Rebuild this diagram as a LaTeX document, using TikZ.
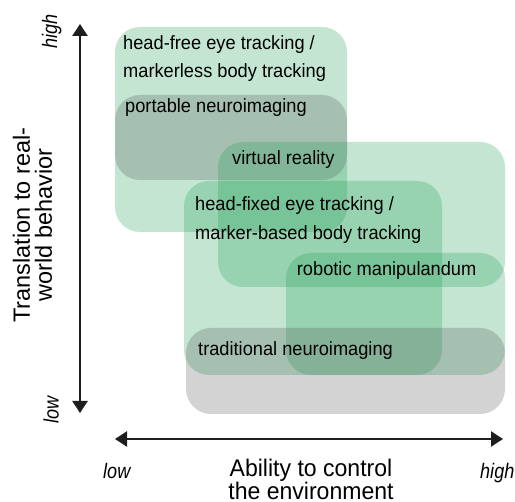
\documentclass[tikz,border=0pt]{standalone}
\usepackage{fontspec}
\setmainfont{Liberation Sans}
\newfontfamily\boxfont[FakeStretch=0.95]{Liberation Sans}
\usetikzlibrary{arrows.meta}
\definecolor{boxgreen}{RGB}{33,159,88}
\definecolor{boxgray}{RGB}{80,80,80}
\definecolor{axisink}{RGB}{30,30,30}
\begin{document}
\begin{tikzpicture}[x=1pt,y=-1pt,
  region/.style={rounded corners=25pt,inner sep=0pt,outer sep=0pt,anchor=north west,draw=none},
  greenbox/.style={region,fill=boxgreen,fill opacity=0.27},
  graybox/.style={region,fill=boxgray,fill opacity=0.25},
  lbl/.style={font=\boxfont\fontsize{19.2}{28.5}\selectfont,anchor=north west,inner sep=0pt,align=left,text=black},
  endlbl/.style={font=\fontsize{21}{21}\selectfont\itshape,inner sep=0pt,text=black},
  ttl/.style={inner sep=0pt,align=center,text=black},
  axisline/.style={draw=axisink,line width=2.4pt,
    {Triangle[width=15pt,length=12pt]}-{Triangle[width=15pt,length=12pt]}}
]
\useasboundingbox (0,0) rectangle (515,502);

% regions
\node[greenbox,minimum width=232pt,minimum height=205pt] (hf) at (115,27) {};
\node[graybox,minimum width=232pt,minimum height=85pt] (pn) at (115,95) {};
\node[greenbox,minimum width=287pt,minimum height=145pt] (vr) at (218,142) {};
\node[greenbox,minimum width=258pt,minimum height=194pt] (hx) at (184,181) {};
\node[greenbox,minimum width=219pt,minimum height=122pt] (rm) at (286,253) {};
\node[graybox,minimum width=319pt,minimum height=86pt] (tn) at (186,328) {};

% region labels
\node[lbl] (hft) at (123,35) {head-free eye tracking /\\markerless body tracking};
\node[lbl] (pnt) at (125,98.3) {portable neuroimaging};
\node[lbl] (vrt) at (232,150) {virtual reality};
\node[lbl] (hxt) at (195,196.7) {head-fixed eye tracking /\\marker-based body tracking};
\node[lbl] (rmt) at (296.7,261.7) {robotic manipulandum};
\node[lbl] (tnt) at (198,341.7) {traditional neuroimaging};

% axes
\coordinate (ytop) at (80,24);
\coordinate (ybot) at (80,413);
\coordinate (xleft) at (115,439);
\coordinate (xright) at (503,439);
\draw[axisline] (ybot) -- (ytop);
\draw[axisline] (xleft) -- (xright);

% axis end labels
\node[endlbl,rotate=90,anchor=base] (yhigh) at (57,31.5) {\scalebox{0.86}[1]{high}};
\node[endlbl,rotate=90,anchor=base] (ylow) at (58.5,410) {\scalebox{0.86}[1]{low}};
\node[endlbl,anchor=base west] (xlow) at (103,479) {\scalebox{0.86}[1]{low}};
\node[endlbl,anchor=base west] (xhigh) at (480,479) {\scalebox{0.86}[1]{high}};

% axis titles
\node[ttl,font=\fontsize{23.5}{22}\selectfont,rotate=90] (ytitle) at (32.5,225) {Translation to real-\\world behavior};
\node[ttl,font=\fontsize{24}{21}\selectfont,anchor=north] (xtitle) at (311,459) {\scalebox{0.96}[1]{Ability to control}\\\scalebox{0.96}[1]{the environment}};
\end{tikzpicture}
\end{document}
